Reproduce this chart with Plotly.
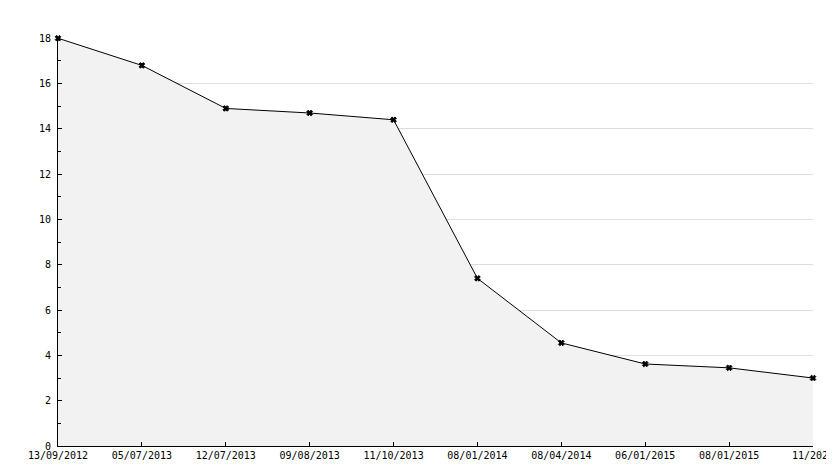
import plotly.graph_objects as go

dates = ["13/09/2012","05/07/2013","12/07/2013","09/08/2013","11/10/2013",
         "08/01/2014","08/04/2014","06/01/2015","08/01/2015","11/2025"]
values = [18, 16.8, 14.9, 14.7, 14.4, 7.4, 4.55, 3.62, 3.45, 3.0]
xs = list(range(len(dates)))

fig = go.Figure(go.Scatter(
    x=xs, y=values, mode="lines+markers", fill="tozeroy",
    fillcolor="#f2f2f2", line=dict(color="black", width=1),
    marker=dict(symbol="x", size=5, color="black", line=dict(width=1, color="black")),
    cliponaxis=False))
fig.update_layout(
    width=834, height=468, margin=dict(l=50, r=29, t=30, b=30, autoexpand=False),
    plot_bgcolor="white", paper_bgcolor="white", showlegend=False,
    font=dict(family="DejaVu Sans Mono", size=10, color="black"),
    xaxis=dict(range=[0, len(dates)-1], tickvals=xs, ticktext=dates, showgrid=False,
               showline=True, linecolor="black", ticks="inside", ticklen=4,
               tickcolor="black", zeroline=False, automargin=False),
    yaxis=dict(range=[0, 18.01], tickvals=list(range(0, 19, 2)), showgrid=True, gridcolor="#dddddd",
               showline=True, linecolor="black", ticks="inside", ticklen=4,
               tickcolor="black", zeroline=False, automargin=False, ticklabelstandoff=4,
               minor=dict(dtick=1, ticks="inside", ticklen=3, tickcolor="black")),
)
fig.write_html("out.html")
